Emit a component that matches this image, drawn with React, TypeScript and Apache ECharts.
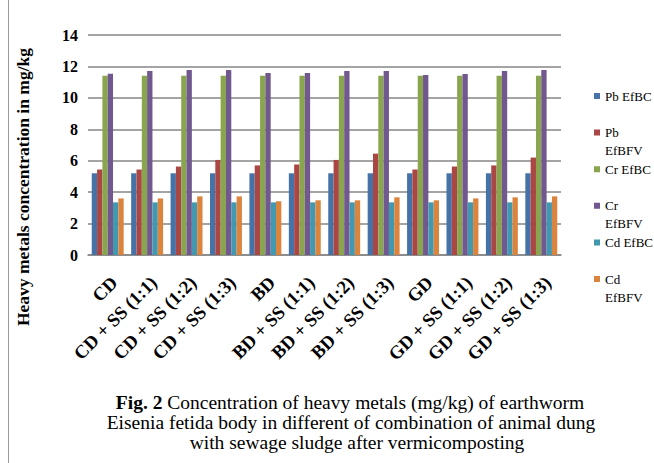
import React, { useEffect, useRef } from "react";
import * as echarts from "echarts";

const categories = [
  "CD",
  "CD + SS (1:1)",
  "CD + SS (1:2)",
  "CD + SS (1:3)",
  "BD",
  "BD + SS (1:1)",
  "BD + SS (1:2)",
  "BD + SS (1:3)",
  "GD",
  "GD + SS (1:1)",
  "GD + SS (1:2)",
  "GD + SS (1:3)",
];
const pbEfBC = [5.2, 5.2, 5.2, 5.2, 5.2, 5.2, 5.2, 5.2, 5.2, 5.2, 5.2, 5.2];
const pbEfBFV = [5.44, 5.44, 5.63, 6.05, 5.7, 5.76, 6.05, 6.45, 5.44, 5.63, 5.7, 6.2];
const crEfBC = [11.4, 11.4, 11.4, 11.4, 11.4, 11.4, 11.4, 11.4, 11.4, 11.4, 11.4, 11.4];
const crEfBFV = [11.54, 11.71, 11.77, 11.77, 11.58, 11.58, 11.71, 11.71, 11.46, 11.52, 11.71, 11.77];
const cdEfBC = [3.35, 3.35, 3.35, 3.35, 3.35, 3.35, 3.35, 3.35, 3.35, 3.35, 3.35, 3.35];
const cdEfBFV = [3.6, 3.6, 3.73, 3.73, 3.42, 3.48, 3.48, 3.67, 3.48, 3.6, 3.67, 3.73];

const seriesNames = ["Pb EfBC", "Pb EfBFV", "Cr EfBC", "Cr EfBFV", "Cd EfBC", "Cd EfBFV"];
const legendLabels = ["Pb EfBC", "Pb\nEfBFV", "Cr EfBC", "Cr\nEfBFV", "Cd EfBC", "Cd\nEfBFV"];
const seriesColors = ["#4572A7", "#AA4643", "#89A54E", "#71588F", "#4198AF", "#DB843D"];
const yMin = 0;
const yMax = 14;
const yStep = 2;

const yAxisTitle = "Heavy metals concentration in mg/kg";
const captionLine1Bold = "Fig. 2";
const captionLine1 = " Concentration of heavy metals (mg/kg) of earthworm";
const captionLine2 = "Eisenia fetida body in different of combination of animal dung";
const captionLine3 = "with sewage sludge after vermicomposting";

const SERIF = "'Liberation Serif', 'Times New Roman', serif";

export default function App() {
  const ref = useRef<HTMLDivElement>(null);
  useEffect(() => {
    if (!ref.current) return;
    const chart = echarts.init(ref.current, undefined, { renderer: "svg" });
    const allData = [pbEfBC, pbEfBFV, crEfBC, crEfBFV, cdEfBC, cdEfBFV];
    chart.setOption({
      animation: false,
      backgroundColor: "#ffffff",
      grid: { left: 88, right: 93, top: 35, bottom: 208, containLabel: false },
      legend: {
        orient: "vertical",
        left: 589,
        top: 82,
        itemWidth: 6,
        itemHeight: 24,
        itemGap: 0.6,
        icon: "path://M0,0h6v6h-6z M2.99,23.99h0.01v0.01h-0.01z",
        data: seriesNames,
        formatter: (name: string) => {
          const i = seriesNames.indexOf(name);
          const l = legendLabels[i];
          return l.indexOf("\n") >= 0 ? l : l + "\n ";
        },
        textStyle: {
          fontFamily: SERIF,
          fontSize: 13,
          color: "#000",
          lineHeight: 18,
        },
      },
      xAxis: {
        type: "category",
        data: categories,
        axisTick: { show: false },
        axisLine: { lineStyle: { color: "#868686", width: 1.5 } },
        axisLabel: {
          rotate: 45,
          interval: 0,
          margin: 18,
          verticalAlign: "top",
          fontFamily: SERIF,
          fontWeight: "bold",
          fontSize: 18.5,
          color: "#000",
        },
      },
      yAxis: {
        type: "value",
        min: yMin,
        max: yMax,
        interval: yStep,
        axisLine: { show: false },
        axisTick: { show: false },
        splitLine: { lineStyle: { color: "#868686", width: 1.5 } },
        axisLabel: {
          margin: 10,
          fontFamily: SERIF,
          fontWeight: "bold",
          fontSize: 16,
          color: "#000",
        },
      },
      series: seriesNames.map((n, i) => ({
        name: n,
        type: "bar",
        data: allData[i],
        barGap: "0%",
        barCategoryGap: "19%",
        itemStyle: { color: seriesColors[i] },
      })),
      graphic: [
        {
          type: "line",
          shape: { x1: 8.5, y1: 0, x2: 8.5, y2: 463 },
          style: { stroke: "#9a9a9a", lineWidth: 1 },
        },
        {
          type: "text",
          x: 23,
          y: 187,
          rotation: Math.PI / 2,
          style: {
            text: yAxisTitle,
            fontFamily: SERIF,
            fontWeight: "bold",
            fontSize: 17.5,
            fill: "#000",
            align: "center",
            verticalAlign: "middle",
          },
        },
        {
          type: "text",
          x: 350,
          y: 402,
          style: {
            text: "{b|" + captionLine1Bold + "}{n|" + captionLine1 + "}",
            align: "center",
            verticalAlign: "middle",
            rich: {
              b: { fontFamily: SERIF, fontWeight: "bold", fontSize: 19.5, fill: "#000" },
              n: { fontFamily: SERIF, fontSize: 19.5, fill: "#000" },
            },
          },
        },
        {
          type: "text",
          x: 351,
          y: 422,
          style: {
            text: captionLine2,
            fontFamily: SERIF,
            fontSize: 19.5,
            fill: "#000",
            align: "center",
            verticalAlign: "middle",
          },
        },
        {
          type: "text",
          x: 357,
          y: 442,
          style: {
            text: captionLine3,
            fontFamily: SERIF,
            fontSize: 19.5,
            fill: "#000",
            align: "center",
            verticalAlign: "middle",
          },
        },
      ],
    });
    return () => chart.dispose();
  }, []);
  return (
    <div
      ref={ref}
      style={{ position: "fixed", left: 0, top: 0, width: 654, height: 463, background: "#fff" }}
    />
  );
}
